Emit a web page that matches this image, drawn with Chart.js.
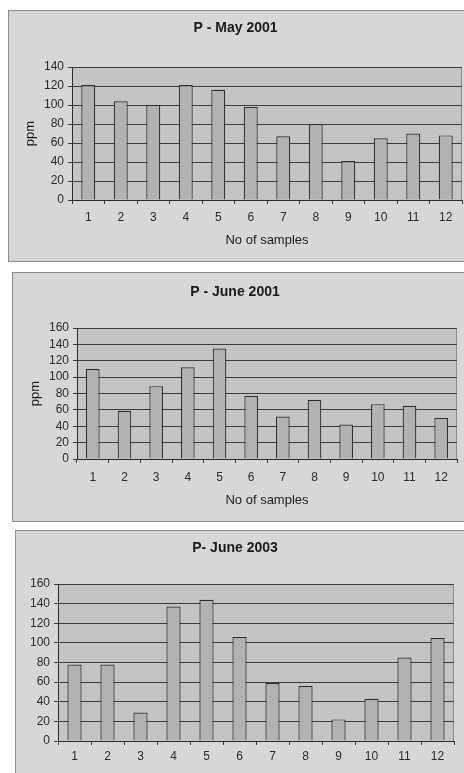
<!DOCTYPE html>
<html>
<head>
<meta charset="utf-8">
<script src="https://cdn.jsdelivr.net/npm/chart.js@4/dist/chart.umd.min.js"></script>
<style>
  html, body { margin: 0; padding: 0; background: #fff; overflow: hidden; }
  body { width: 464px; height: 773px; position: relative; }
  .box { position: absolute; border: 1px solid #8c8c8c; background: #d7d7d7; }
  .box canvas { display: block; }
</style>
</head>
<body>
<div class="box" id="box1"><canvas id="c1"></canvas></div>
<div class="box" id="box2"><canvas id="c2"></canvas></div>
<div class="box" id="box3"><canvas id="c3"></canvas></div>
<script>
// samples 1..12
const samples = ['1','2','3','4','5','6','7','8','9','10','11','12'];

// phosphorus, ppm
const pMay2001  = [121, 104, 100, 121, 116, 98, 67, 80, 41, 65, 70, 68];
const pJune2001 = [110, 59, 89, 112, 135, 77, 52, 72, 42, 67, 65, 50];
const pJune2003 = [78, 78, 29, 137, 144, 106, 59, 56, 22, 43, 85, 105];

const titles = ['P - May 2001', 'P - June 2001', 'P- June 2003'];
const yMax = [140, 160, 160];

// box + plot area placement for each panel (page pixels)
const panels = [
  { box: [8, 10, 464, 252],  plot: [72, 67, 462, 200], titleY: 28,  tickPad: 6, xTitleY: 240, yTitleX: 30 },
  { box: [12, 272, 456, 250], plot: [77, 328, 457, 459], titleY: 292, tickPad: 7, xTitleY: 500, yTitleX: 35 },
  { box: [15, 530, 462, 252], plot: [58, 584, 454, 741], titleY: 548, tickPad: 4, xTitleY: null, yTitleX: null }
];
const series = [pMay2001, pJune2001, pJune2003];

const FONT = "'Liberation Sans', Arial, sans-serif";
const TITLE_SIZE = 14, AXIS_TITLE_SIZE = 13, TICK_SIZE = 12;

// grey plot area behind the bars
const plotFill = {
  id: 'plotFill',
  beforeDraw(chart) {
    const {ctx, chartArea: a} = chart;
    ctx.save();
    ctx.fillStyle = '#c4c4c4';
    ctx.fillRect(a.left, a.top, a.right - a.left, a.bottom - a.top);
    ctx.strokeStyle = '#8a8a8a';
    ctx.lineWidth = 1;
    ctx.strokeRect(a.left + 0.5, a.top + 0.5, a.right - a.left - 1, a.bottom - a.top);
    ctx.restore();
  }
};

panels.forEach((p, i) => {
  const [bx, by, bw, bh] = p.box;
  const boxEl = document.getElementById('box' + (i + 1));
  boxEl.style.left = bx + 'px';
  boxEl.style.top = by + 'px';
  const cw = bw - 2, ch = bh - 2;
  const canvas = document.getElementById('c' + (i + 1));
  canvas.width = cw; canvas.height = ch;
  canvas.style.width = cw + 'px'; canvas.style.height = ch + 'px';

  const cx = bx + 1, cy = by + 1;
  const [pl, pt, pr, pb] = p.plot;
  const titleLH = TITLE_SIZE * 1.2;
  const titlePadTop = p.titleY - cy - titleLH / 2;
  const titlePadBottom = (pt - cy) - titlePadTop - titleLH;
  const axisHalf = AXIS_TITLE_SIZE * 1.2 / 2;

  new Chart(canvas.getContext('2d'), {
    type: 'bar',
    data: {
      labels: samples,
      datasets: [{
        data: series[i],
        backgroundColor: '#b2b2b2',
        borderColor: '#26302c',
        borderWidth: 1.2,
        barPercentage: 0.43,
        categoryPercentage: 1
      }]
    },
    options: {
      responsive: false,
      animation: false,
      devicePixelRatio: 1,
      layout: { padding: { left: 0, right: cx + cw - pr, top: 0, bottom: 0 } },
      plugins: {
        legend: { display: false },
        tooltip: { enabled: false },
        title: {
          display: true,
          text: titles[i],
          color: '#1a1a1a',
          font: { family: FONT, size: TITLE_SIZE, weight: 'bold', lineHeight: 1.2 },
          padding: { top: titlePadTop, bottom: titlePadBottom }
        }
      },
      scales: {
        x: {
          grid: { drawOnChartArea: false, drawTicks: true, tickLength: 4, color: '#3a3a3a', offset: true },
          border: { display: true, color: '#2a2a2a', width: 1 },
          ticks: { color: '#2a2a2a', padding: p.tickPad, autoSkip: false, maxRotation: 0, font: { family: FONT, size: TICK_SIZE, lineHeight: 1.2 } },
          title: {
            display: p.xTitleY !== null,
            text: 'No of samples',
            color: '#1a1a1a',
            font: { family: FONT, size: AXIS_TITLE_SIZE, lineHeight: 1.2 },
            padding: { top: 2, bottom: p.xTitleY === null ? 0 : (cy + ch) - p.xTitleY - axisHalf }
          },
          afterFit(scale) { scale.height = (cy + ch) - pb; }
        },
        y: {
          min: 0,
          max: yMax[i],
          grid: { color: '#3c3c3c', lineWidth: 1, drawTicks: true, tickLength: 4 },
          border: { display: true, color: '#2a2a2a', width: 1 },
          ticks: { stepSize: 20, autoSkip: false, color: '#2a2a2a', padding: 4, font: { family: FONT, size: TICK_SIZE } },
          title: {
            display: p.yTitleX !== null,
            text: 'ppm',
            color: '#1a1a1a',
            font: { family: FONT, size: AXIS_TITLE_SIZE, lineHeight: 1.2 },
            padding: { top: p.yTitleX === null ? 0 : p.yTitleX - cx - axisHalf, bottom: 0 }
          },
          afterFit(scale) { scale.width = pl - cx; }
        }
      }
    },
    plugins: [plotFill]
  });
});
</script>
</body>
</html>
